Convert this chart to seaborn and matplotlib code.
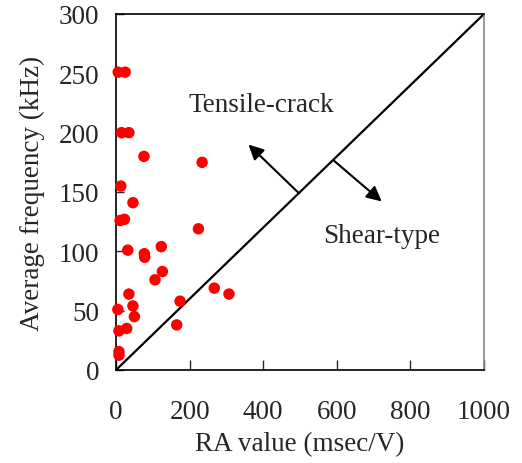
import matplotlib
matplotlib.use("Agg")
import matplotlib.pyplot as plt
import seaborn as sns
import pandas as pd

ra_value = [6, 25, 15, 35, 76, 234, 13, 46, 11, 23, 224, 32, 123, 77, 78,
            126, 106, 267, 307, 35, 174, 46, 5, 50, 165, 29, 8, 8, 8]
avg_freq = [251, 251, 200, 200, 180, 175, 155, 141, 126, 127, 119, 101, 104, 98, 95,
            83, 76, 69, 64, 64, 58, 54, 51, 45, 38, 35, 33, 15.5, 12.5]
boundary_x = [0, 1000]
boundary_y = [0, 300]
x_ticks = [0, 200, 400, 600, 800, 1000]
y_ticks = [0, 50, 100, 150, 200, 250, 300]

sns.set_style("ticks")
plt.rcParams['font.family'] = ['Liberation Serif', 'DejaVu Serif']

df = pd.DataFrame({"RA": ra_value, "AF": avg_freq})

fig = plt.figure(figsize=(5.22, 4.64), dpi=100)
ax = fig.add_axes([116/522, 1-371/464, (484-116)/522, (371-15)/464])

ax.plot(boundary_x, boundary_y, color="black", lw=1.6, zorder=2)
sns.scatterplot(data=df, x="RA", y="AF", ax=ax, color="#ff0000", edgecolor="none",
                s=68, zorder=3, legend=False, clip_on=False)

fs = 19.5
ax.set_xlim(0, 1000)
ax.set_ylim(0, 300)
ax.set_xticks(x_ticks)
ax.set_yticks(y_ticks)
ax.tick_params(axis="x", direction="in", length=7, width=1, pad=21, labelsize=fs)
ax.tick_params(axis="y", direction="in", length=6, width=1, pad=12, labelsize=fs)
ax.set_xlabel("RA value (msec/V)", fontsize=fs, labelpad=5)
ax.set_ylabel("Average frequency (kHz)", fontsize=fs, labelpad=10)

for side in ["left", "bottom", "top"]:
    ax.spines[side].set_color("black")
    ax.spines[side].set_linewidth(1.2)
ax.spines["right"].set_color("#888888")
ax.spines["right"].set_linewidth(1.2)

ax.text(394, 224, "Tensile-crack", fontsize=fs, ha="center", va="center")
ax.text(721, 113, "Shear-type", fontsize=fs, ha="center", va="center")

arrow_props = dict(arrowstyle="-|>,head_length=0.9,head_width=0.45", color="black", lw=1.5,
                   shrinkA=0, shrinkB=0)
ax.annotate("", xy=(360, 190), xytext=(497, 149), arrowprops=arrow_props)
ax.annotate("", xy=(722, 142), xytext=(590, 177), arrowprops=arrow_props)

fig.savefig("out.png", dpi=100)
